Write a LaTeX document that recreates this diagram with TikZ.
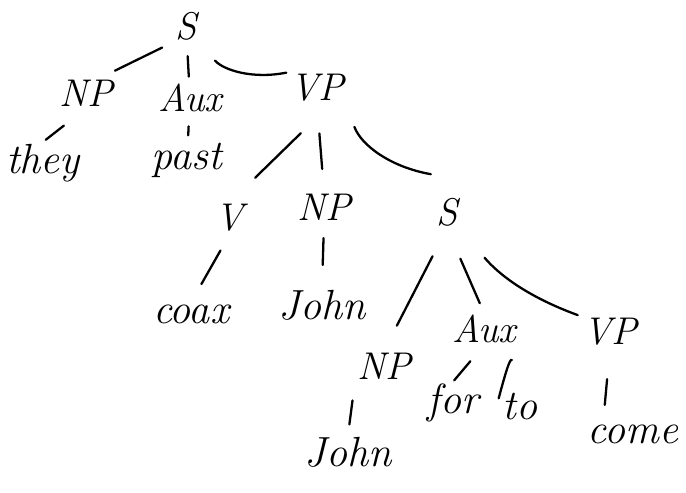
\documentclass[tikz,border=0pt]{standalone}
\usepackage{tikz}
\tikzset{
  cat/.style={font=\fontsize{22}{24}\selectfont\itshape, inner sep=1pt},
  word/.style={font=\fontsize{24}{26}\selectfont\itshape, inner sep=1pt},
  br/.style={line width=1.3pt, line cap=round}
}
\begin{document}
\begin{tikzpicture}[x=0.02cm,y=-0.02cm]
\useasboundingbox (0,0) rectangle (686,493);
\node[cat] (s) at (186,26) {S};
\node[cat] (np) at (86,93) {NP};
\node[cat] (aux) at (190,98) {Aux};
\node[cat] (vp) at (317,88) {VP};
\node[word] (they) at (43,163) {they};
\node[word] (past) at (187,160) {past};
\node[cat] (v) at (230,218) {V};
\node[cat] (np2) at (324,207) {NP};
\node[cat] (s2) at (447,212) {S};
\node[word] (coax) at (191,314) {coax};
\node[word] (john) at (322,305) {John};
\node[cat] (np3) at (384,366) {NP};
\node[cat] (aux2) at (484,329) {Aux};
\node[cat] (vp2) at (610,332) {VP};
\node[word] (for) at (453,403) {for};
\node[word] (to) at (520,407) {to};
\node[word] (come) at (633,434) {come};
\node[word] (john2) at (348,452) {John};
% top level
\draw[br, shorten <=7pt] (s.south west) to ([yshift=4pt]np.north east);
\draw[br, shorten <=8pt, shorten >=3pt] (s) to (aux);
\draw[br, shorten <=14pt, shorten >=1pt] (s.south east) to[bend right=30] (vp.north west);
\draw[br, shorten <=16pt, shorten >=2pt] (np.south) to (they.north);
\draw[br, shorten <=7pt, shorten >=3pt] (aux) to (past);
% VP
\draw[br, shorten <=24pt, shorten >=20pt] ([xshift=8pt]vp.south) to (v.north);
\draw[br, shorten <=17pt, shorten >=13pt] (vp.south) to (np2.north);
\draw[br, shorten <=14pt, shorten >=2pt] (vp.south east) to[out=-70,in=170] ([yshift=12pt]s2.north west);
\draw[br, shorten <=11pt, shorten >=12pt] (v.south) to (coax.north);
\draw[br, shorten <=9pt, shorten >=13pt] (np2.south) to (john.north);
% embedded S
\draw[br, shorten <=18pt, shorten >=16pt] (s2.south) to (np3.north);
\draw[br, shorten <=19pt, shorten >=6pt] (s2.south) to (aux2.north);
\draw[br, shorten <=22pt, shorten >=2pt] (s2.south east) to[out=-50,in=160] (vp2.north west);
\draw[br, shorten <=11pt, shorten >=6pt] (np3.south west) to (john2.north);
\draw[br, shorten <=12pt, shorten >=1pt] (aux2.south) to (for.north);
\draw[br, shorten <=12pt, shorten >=-4pt] ([xshift=-12pt]aux2.south east) to[out=-45,in=75] (to.north west);
\draw[br, shorten <=18pt, shorten >=10pt] (vp2.south) to ([xshift=10pt]come.north west);
\end{tikzpicture}
\end{document}
